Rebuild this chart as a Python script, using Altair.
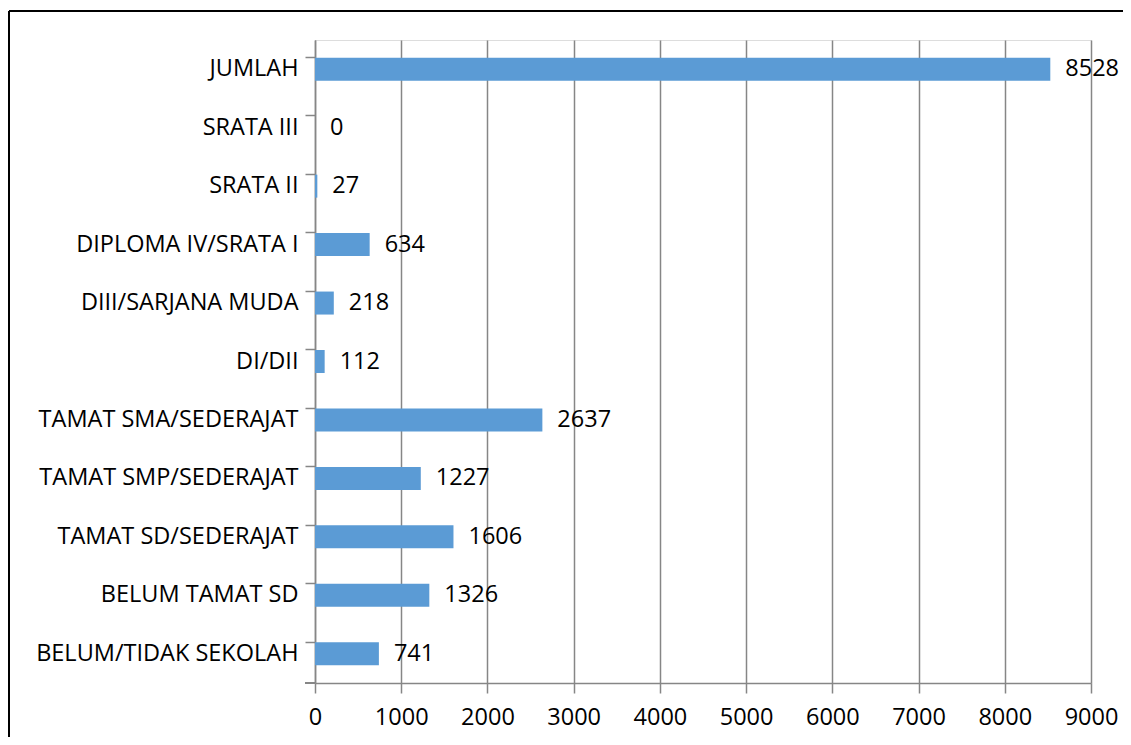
import altair as alt
import pandas as pd

categories = [
    "JUMLAH", "SRATA III", "SRATA II", "DIPLOMA IV/SRATA I", "DIII/SARJANA MUDA",
    "DI/DII", "TAMAT SMA/SEDERAJAT", "TAMAT SMP/SEDERAJAT", "TAMAT SD/SEDERAJAT",
    "BELUM TAMAT SD", "BELUM/TIDAK SEKOLAH",
]
values = [8528, 0, 27, 634, 218, 112, 2637, 1227, 1606, 1326, 741]
x_ticks = [0, 1000, 2000, 3000, 4000, 5000, 6000, 7000, 8000, 9000]

df = pd.DataFrame({"kategori": categories, "jumlah": values})

FONT = "Open Sans"
GRAY = "#868686"
W, H = 776, 643
FS = 23.5

y_enc = alt.Y("kategori:N", sort=categories, title=None,
              scale=alt.Scale(paddingInner=0.6, paddingOuter=0.3),
              axis=alt.Axis(bandPosition=0, domainColor=GRAY, domainWidth=1.5,
                            tickColor=GRAY, tickWidth=1.5, tickSize=10,
                            labelPadding=7, labelFont=FONT, labelFontSize=FS,
                            labelColor="black", grid=False, labelLimit=400))
x_enc = alt.X("jumlah:Q", title=None,
              scale=alt.Scale(domain=[0, 9000], nice=False),
              axis=alt.Axis(values=x_ticks, domainColor=GRAY, domainWidth=1.5,
                            tickColor=GRAY, tickWidth=1.5, tickSize=10,
                            labelPadding=12, labelFont=FONT, labelFontSize=FS,
                            labelColor="black", grid=True, gridColor=GRAY,
                            gridWidth=1.5, format="d", labelFlush=False))

bars = alt.Chart(df).mark_bar(color="#5B9BD5", size=23).encode(y=y_enc, x=x_enc)
labels = alt.Chart(df).mark_text(align="left", baseline="middle", dx=15,
                                 font=FONT, fontSize=FS, color="black").encode(
    y=alt.Y("kategori:N", sort=categories), x="jumlah:Q", text="jumlah:Q")

bottom_tick = alt.Chart(df).mark_rule(color=GRAY, strokeWidth=1.5).encode(
    x=alt.value(-10), x2=alt.value(0), y=alt.value(H))
frame_top = alt.Chart(df).mark_rule(color="black", strokeWidth=2).encode(
    x=alt.value(-306), x2=alt.value(W + 100), y=alt.value(-29))
frame_left = alt.Chart(df).mark_rule(color="black", strokeWidth=2).encode(
    x=alt.value(-306), y=alt.value(-29), y2=alt.value(H + 100))

chart = alt.layer(bars, labels, bottom_tick, frame_top, frame_left).properties(
    width=W, height=H,
    autosize=alt.AutoSizeParams(type="none"),
    padding={"left": 307, "top": 32, "right": 1115 - 307 - W, "bottom": 54},
).configure_view(stroke=None).configure(background="white")

chart.save("out.html", embed_options={"renderer": "svg", "actions": False})
